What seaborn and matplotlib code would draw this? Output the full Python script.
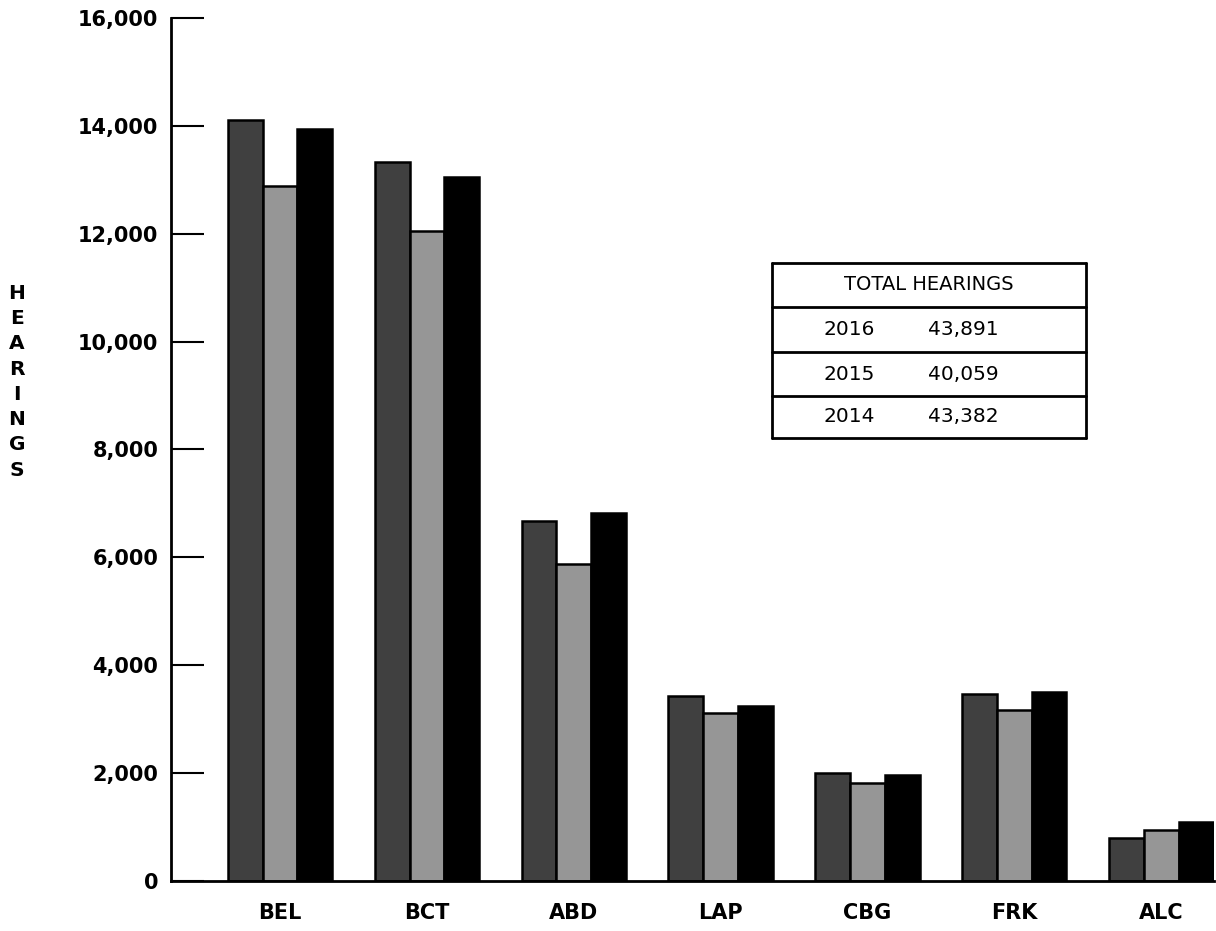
import pandas as pd
import matplotlib.pyplot as plt
import seaborn as sns
from matplotlib.lines import Line2D

# data
regions = ['BEL', 'BCT', 'ABD', 'LAP', 'CBG', 'FRK', 'ALC']
years = ['2016', '2015', '2014']
hearings_2016 = [14100, 13330, 6680, 3430, 2000, 3460, 800]
hearings_2015 = [12880, 12050, 5880, 3110, 1815, 3170, 940]
hearings_2014 = [13950, 13060, 6830, 3240, 1965, 3500, 1090]
totals = ['43,891', '40,059', '43,382']

df = pd.DataFrame({
    'region': regions * 3,
    'year': [years[0]] * 7 + [years[1]] * 7 + [years[2]] * 7,
    'hearings': hearings_2016 + hearings_2015 + hearings_2014,
})

sns.set_style('white')
plt.rcParams['font.family'] = ['DejaVu Sans']
plt.rcParams['text.color'] = 'black'
plt.rcParams['xtick.color'] = 'black'
plt.rcParams['ytick.color'] = 'black'

fig = plt.figure(figsize=(12.16, 9.31), dpi=100)
ax = fig.add_axes([0.1406, 0.0537, 0.8574, 0.927])

palette = {'2016': '#404040', '2015': '#969696', '2014': '#000000'}
sns.barplot(data=df, x='region', y='hearings', hue='year', hue_order=years,
            palette=palette, width=0.71, edgecolor='black', linewidth=1.8,
            saturation=1, legend=False, ax=ax)

ax.set_ylim(0, 16000)
ax.set_xlim(-0.743, 6.357)
ax.set_yticks(range(0, 16001, 2000))
ax.set_yticklabels(['{:,}'.format(v) for v in range(0, 16001, 2000)],
                   fontsize=15, fontweight='bold')
ax.set_xticklabels(regions, fontsize=15, fontweight='bold')
ax.tick_params(axis='y', direction='in', length=24, width=1.5, pad=9, left=True)
ax.tick_params(axis='x', length=0, pad=16)
ax.set_xlabel('')
ax.set_ylabel('')

for s in ['top', 'right']:
    ax.spines[s].set_visible(False)
for s in ['left', 'bottom']:
    ax.spines[s].set_color('black')
    ax.spines[s].set_linewidth(2)

# vertical stacked axis title
fig.text(0.014, 0.59, '\n'.join('HEARINGS'), ha='center', va='center',
         fontsize=14.5, fontweight='bold', linespacing=1.42)

# totals box
W, H = 1216, 931
x0, x1 = 772, 1086
rows_y = [263, 307, 352, 396, 438]
lw = 2
for y in rows_y:
    fig.add_artist(Line2D([x0 / W, x1 / W], [1 - y / H, 1 - y / H], color='black', lw=lw))
for x in [x0, x1]:
    fig.add_artist(Line2D([x / W, x / W], [1 - rows_y[0] / H, 1 - rows_y[-1] / H], color='black', lw=lw))

fig.text((x0 + x1) / 2 / W, 1 - (rows_y[0] + rows_y[1]) / 2 / H, 'TOTAL HEARINGS',
         ha='center', va='center', fontsize=14)
for i, (yr, tot) in enumerate(zip(years, totals)):
    yc = 1 - (rows_y[i + 1] + rows_y[i + 2]) / 2 / H
    fig.text(849 / W, yc, yr, ha='center', va='center', fontsize=14.5)
    fig.text(963 / W, yc, tot, ha='center', va='center', fontsize=14.5)

fig.savefig('out.png', dpi=100)
